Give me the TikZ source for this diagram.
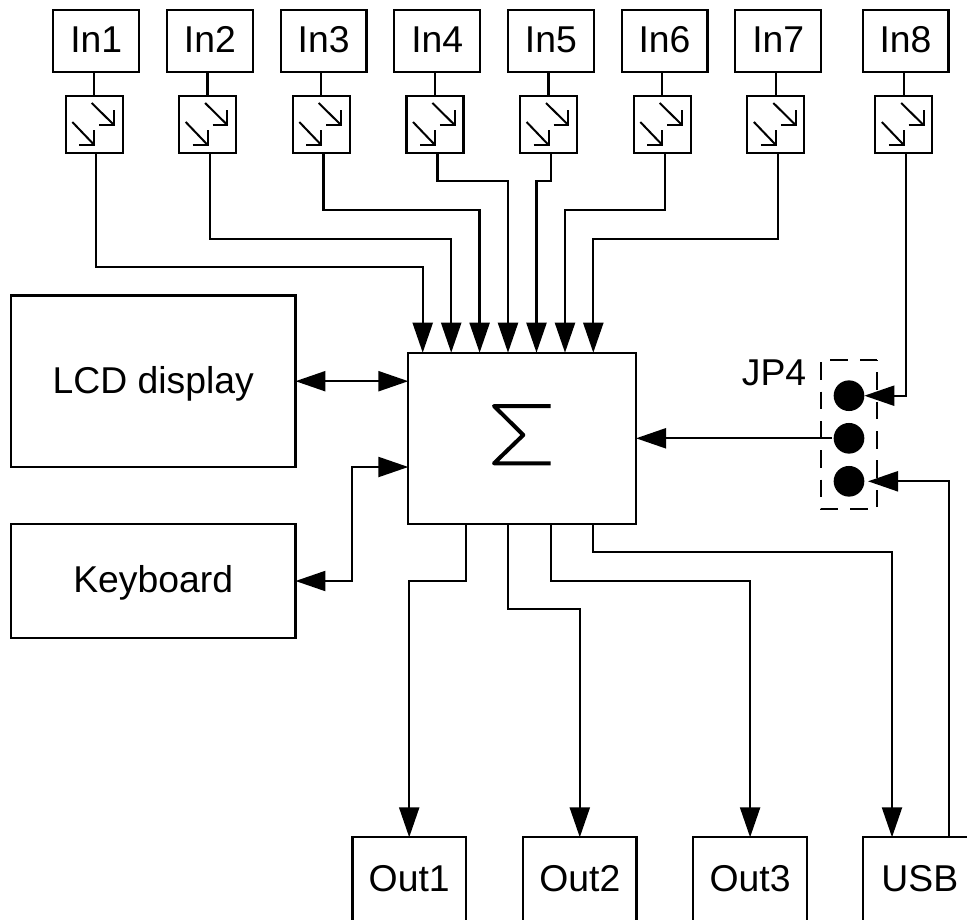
\documentclass[tikz,border=0pt]{standalone}
\usepackage{fontspec}
\setmainfont{Liberation Sans}
\usetikzlibrary{arrows.meta,calc}
\tikzset{
  wire/.style={line width=1.7pt,line join=miter},
  arr/.style={wire,-{Triangle[length=22.5pt,width=15pt,sep=0pt]}},
  dblarr/.style={wire,{Triangle[length=22.5pt,width=15pt,sep=0pt]}-{Triangle[length=22.5pt,width=15pt,sep=0pt]}},
  box/.style={draw,line width=1.7pt,inner sep=0pt,outer sep=0pt,text height=20pt,text depth=2.2pt,
    font=\fontsize{28}{32}\selectfont},
  inbox/.style={box,minimum width=64.3pt,minimum height=46.5pt},
  splitbox/.style={draw,line width=1.7pt,inner sep=0pt,outer sep=0pt,minimum width=42.75pt,minimum height=42.75pt},
  outbox/.style={box,minimum width=85.2pt,minimum height=63.75pt},
  dot/.style={circle,fill=black,inner sep=0pt,outer sep=0pt,minimum size=23pt},
  thinline/.style={line width=1.5pt,line join=miter}
}
\newcommand{\splitarrows}[1]{%
  \draw[thinline] ([shift={(26,7)}]#1.north west) -- ([shift={(48.3,29)}]#1.north west);
  \draw[thinline] ([shift={(33.5,29)}]#1.north west) -- ([shift={(48.3,29)}]#1.north west) -- ([shift={(48.3,14)}]#1.north west);
  \draw[thinline] ([shift={(6.6,26)}]#1.north west) -- ([shift={(28.6,49)}]#1.north west);
  \draw[thinline] ([shift={(13.6,49)}]#1.north west) -- ([shift={(28.6,49)}]#1.north west) -- ([shift={(28.6,34)}]#1.north west);
}
\begin{document}
\begin{tikzpicture}[x=0.75pt,y=-0.75pt]
\useasboundingbox (0,0) rectangle (967,920);
\clip (0,0) rectangle (967,920);
\fill[white] (0,0) rectangle (967,920);
% input boxes
\node[inbox] (i1) at (96.2,41) {In1};
\node[inbox] (i2) at (209.9,41) {In2};
\node[inbox] (i3) at (323.6,41) {In3};
\node[inbox] (i4) at (437.2,41) {In4};
\node[inbox] (i5) at (550.9,41) {In5};
\node[inbox] (i6) at (664.5,41) {In6};
\node[inbox] (i7) at (778.2,41) {In7};
\node[inbox] (i8) at (905.5,41) {In8};
% splitters
\node[splitbox] (s1) at (94.2,124.5) {};
\node[splitbox] (s2) at (207.6,124.5) {};
\node[splitbox] (s3) at (321.2,124.5) {};
\node[splitbox] (s4) at (434.9,124.5) {};
\node[splitbox] (s5) at (548.5,124.5) {};
\node[splitbox] (s6) at (662.2,124.5) {};
\node[splitbox] (s7) at (775.8,124.5) {};
\node[splitbox] (s8) at (903.7,124.5) {};
\foreach \n in {s1,s2,s3,s4,s5,s6,s7,s8}{\splitarrows{\n}}
\foreach \n/\m in {i1/s1,i2/s2,i3/s3,i4/s4,i5/s5,i6/s6,i7/s7,i8/s8}{
  \draw[wire] (\n.south -| \m.north) -- (\m.north);
}
% main blocks
\node[box,minimum width=170.8pt,minimum height=128.5pt] (main) at (522.2,438.3) {};
\draw[line width=3pt,line join=round] (550.7,406) -- (494,406) -- (523.3,435) -- (494,463.3) -- (550.7,463.3);
\node[box,minimum width=213.4pt,minimum height=128.6pt] (lcd) at (153.2,381.2) {LCD display};
\node[box,minimum width=213.4pt,minimum height=85.5pt] (kb) at (153.2,581) {Keyboard};
% output boxes (cut by the picture edge)
\node[outbox] (o1) at (409.2,879.8) {Out1};
\node[outbox] (o2) at (579.8,879.8) {Out2};
\node[outbox] (o3) at (750.1,879.8) {Out3};
\node[outbox] (usb) at (919.8,879.8) {USB};
% jumper
\node[dot] (c1) at (849,395.7) {};
\node[dot] (c2) at (849,438.3) {};
\node[dot] (c3) at (849,481.3) {};
\draw[line width=1.7pt,dash pattern=on 13.25pt off 8.75pt] (877.3,360) -- (821,360) -- (821,509.3) -- (877.3,509.3) -- cycle;
\node[anchor=east,inner sep=0pt,font=\fontsize{28}{32}\selectfont] (jp) at (806.5,373) {JP4};
% named ends
\foreach \k/\x in {1/96.2,2/209.9,3/323.6,4/437.5,5/551,6/665,7/778.2,8/905.7}{
  \coordinate (b\k) at (\x,153);
}
\foreach \k/\x in {1/422.7,2/451.2,3/479.6,4/508,5/536.5,6/565,7/593.3}{
  \coordinate (t\k) at (\x,352.7);
}
\draw[arr] (b1) -- (b1 |- 0,267) -| (t1);
\draw[arr] (b2) -- (b2 |- 0,239) -| (t2);
\draw[arr] (b3) -- (b3 |- 0,210) -| (t3);
\draw[arr] (b4) -- (b4 |- 0,181.3) -| (t4);
\draw[arr] (b5) -- (b5 |- 0,181.3) -| (t5);
\draw[arr] (b6) -- (b6 |- 0,210) -| (t6);
\draw[arr] (b7) -- (b7 |- 0,239) -| (t7);
\draw[arr] (b8) |- (c1.east);
% left side
\draw[dblarr] (lcd.east) -- (main.west |- lcd.east);
\coordinate (m2) at (408.3,467);
\coordinate (k1) at (352.3,581);
\draw[dblarr] (kb.east) -- (k1) |- (m2);
% right side
\coordinate (j2) at (831.7,438.3);
\draw[arr] (j2) -- (main.east |- j2);
\coordinate (u1) at (948.8,837.3);
\coordinate (j3) at (868,481.3);
\draw[arr] (u1) |- (j3);
% outputs
\coordinate (q1) at (465.7,524);
\coordinate (q2) at (508,524);
\coordinate (q3) at (551,524);
\coordinate (q4) at (593,524);
\draw[arr] (q1) -- (q1 |- 0,581) -| (o1.north);
\draw[arr] (q2) -- (q2 |- 0,609.3) -| (o2.north);
\draw[arr] (q3) -- (q3 |- 0,581) -| (o3.north);
\coordinate (u2) at (892,837.3);
\draw[arr] (q4) -- (q4 |- 0,552.3) -| (u2);
\end{tikzpicture}
\end{document}
